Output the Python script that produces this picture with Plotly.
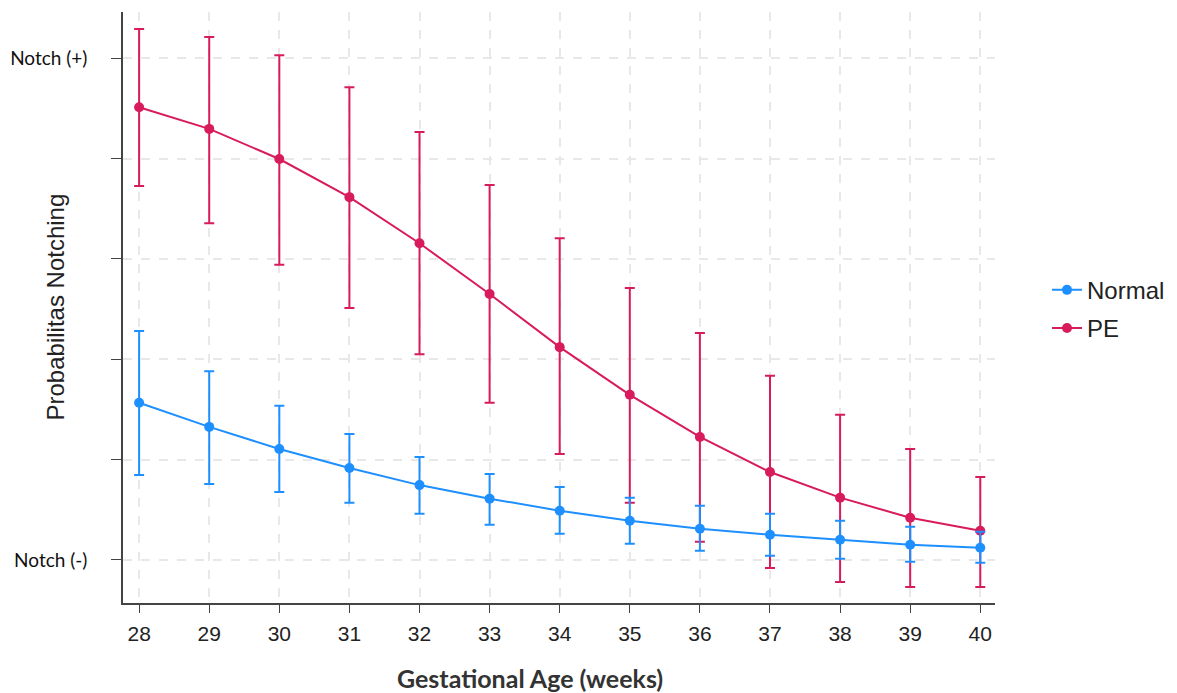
import plotly.graph_objects as go

weeks = [28, 29, 30, 31, 32, 33, 34, 35, 36, 37, 38, 39, 40]

pe_mean = [0.902, 0.859, 0.799, 0.723, 0.631, 0.530, 0.424, 0.329, 0.245, 0.175, 0.124, 0.084, 0.058]
pe_upper = [1.058, 1.042, 1.006, 0.942, 0.853, 0.747, 0.641, 0.542, 0.452, 0.367, 0.289, 0.221, 0.165]
pe_lower = [0.745, 0.671, 0.588, 0.502, 0.410, 0.313, 0.211, 0.114, 0.036, -0.016, -0.044, -0.054, -0.054]

normal_mean = [0.313, 0.265, 0.221, 0.183, 0.149, 0.122, 0.098, 0.078, 0.062, 0.050, 0.040, 0.030, 0.024]
normal_upper = [0.456, 0.376, 0.307, 0.251, 0.205, 0.171, 0.145, 0.124, 0.108, 0.092, 0.078, 0.066, 0.056]
normal_lower = [0.169, 0.151, 0.135, 0.114, 0.092, 0.070, 0.052, 0.032, 0.018, 0.008, 0.002, -0.004, -0.006]

y_tickvals = [0, 0.2, 0.4, 0.6, 0.8, 1.0]
y_ticktext = ["Notch (-)", "", "", "", "", "Notch (+)"]

BLUE = "#1E8FFF"
RED = "#D81B5C"

def err(mean, up, lo, color):
    return dict(
        type="data", symmetric=False,
        array=[u - m for u, m in zip(up, mean)],
        arrayminus=[m - l for m, l in zip(mean, lo)],
        thickness=2, width=5, color=color,
    )

fig = go.Figure()
fig.add_trace(go.Scatter(
    x=weeks, y=pe_mean, name="PE", mode="lines+markers",
    line=dict(color=RED, width=2), marker=dict(color=RED, size=10),
    error_y=err(pe_mean, pe_upper, pe_lower, RED),
    legendrank=2, legendgroup="pe",
))
fig.add_trace(go.Scatter(
    x=weeks, y=normal_mean, name="Normal", mode="lines+markers",
    line=dict(color=BLUE, width=2), marker=dict(color=BLUE, size=10),
    error_y=err(normal_mean, normal_upper, normal_lower, BLUE),
    legendrank=1, legendgroup="normal",
))

W, H = 1177, 693
L, R, T, B = 123, 182, 12, 90
PW = W - L - R
PH = H - T - B

fig.update_layout(
    width=W, height=H,
    paper_bgcolor="white", plot_bgcolor="white",
    margin=dict(l=L, r=R, t=T, b=B, autoexpand=False),
    font=dict(family="Liberation Sans, Arial", color="#222"),
    legend=dict(
        x=(1047 - L) / PW, y=0.497, xanchor="left", yanchor="middle",
        font=dict(size=24, family="Liberation Sans, Arial", color="#222"),
        bgcolor="rgba(0,0,0,0)", tracegroupgap=4, traceorder="grouped",
    ),
    xaxis=dict(
        range=[27.77, 40.21], automargin=False,
        tickvals=weeks, ticktext=[str(w) for w in weeks],
        showline=True, linecolor="#444", linewidth=1.5,
        ticks="outside", ticklen=8, tickcolor="#444",
        ticklabelstandoff=3,
        tickfont=dict(size=21, family="Liberation Sans, Arial", color="#222"),
        showgrid=True, gridcolor="#E8E8E8", griddash="dash", gridwidth=1.5,
        zeroline=False,
    ),
    yaxis=dict(
        range=[-0.086, 1.092], automargin=False,
        tickvals=y_tickvals, ticktext=y_ticktext,
        showline=True, linecolor="#444", linewidth=1.5,
        ticks="outside", ticklen=10, tickcolor="#444",
        ticklabelstandoff=20,
        tickfont=dict(size=19, family="Lato, Open Sans", color="#111"),
        showgrid=True, gridcolor="#E8E8E8", griddash="dash", gridwidth=1.5,
        zeroline=False,
    ),
    annotations=[
        dict(
            text="Probabilitas Notching", textangle=-90,
            x=(55 - L) / PW, xref="paper", y=0.5, yref="paper", xanchor="center",
            showarrow=False, font=dict(size=24, family="Liberation Sans, Arial", color="#222"),
        ),
        dict(
            text="<b>Gestational Age (weeks)</b>",
            x=(530 - L) / PW, xref="paper", y=-(678 - (H - B)) / PH, yref="paper",
            xanchor="center", yanchor="middle",
            showarrow=False, font=dict(size=25, family="Lato, Open Sans", color="#333"),
        ),
    ],
)

fig.write_html("out.html", config={"displayModeBar": False},
               post_script="document.body.style.margin='0';")
